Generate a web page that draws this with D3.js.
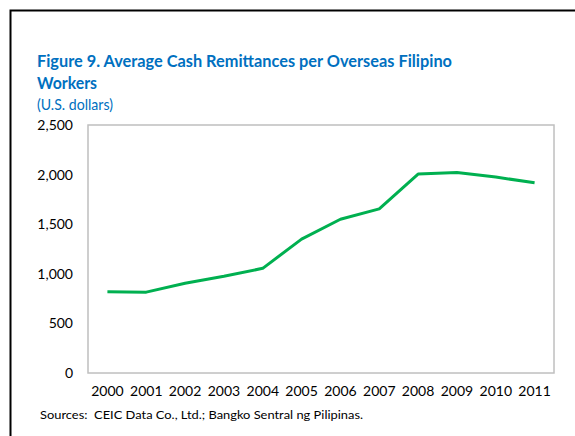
<!DOCTYPE html>
<html lang="en">
<head>
    <meta charset="UTF-8">
    <title>Average Cash Remittances per Overseas Filipino Workers</title>
    <script src="https://d3js.org/d3.v7.min.js"></script>
    <style>
        body { margin: 0; background: #fff; }
        text { font-family: Lato, "Open Sans", sans-serif; }
    </style>
</head>
<body>
    <div id="chart"></div>
    <script>
        // Data
        var years = ["2000", "2001", "2002", "2003", "2004", "2005", "2006", "2007", "2008", "2009", "2010", "2011"];
        var remittances = [820, 815, 905, 975, 1055, 1350, 1550, 1655, 2005, 2022, 1975, 1918];
        var yTicks = [0, 500, 1000, 1500, 2000, 2500];

        var svg = d3.select("#chart")
            .append("svg")
            .attr("width", 575)
            .attr("height", 436);

        // outer frame
        svg.append("rect")
            .attr("x", 10.5).attr("y", 10.5)
            .attr("width", 600).attr("height", 500)
            .attr("fill", "none")
            .attr("stroke", "#000")
            .attr("stroke-width", 2);

        var margin = { top: 125, left: 88, right: 21, bottom: 63 };
        var width = 575 - margin.left - margin.right;
        var height = 436 - margin.top - margin.bottom;

        var x = d3.scaleBand().domain(years).range([0, width]);
        var y = d3.scaleLinear().domain([0, 2500]).range([height, 0]);

        var g = svg.append("g")
            .attr("transform", "translate(" + margin.left + "," + margin.top + ")");

        // title
        svg.append("text")
            .attr("x", 37).attr("y", 67)
            .attr("fill", "#0070C0")
            .attr("font-weight", "bold")
            .attr("font-size", 17.5)
            .attr("textLength", 415)
            .attr("lengthAdjust", "spacingAndGlyphs")
            .text("Figure 9. Average Cash Remittances per Overseas Filipino");
        svg.append("text")
            .attr("x", 37).attr("y", 89)
            .attr("fill", "#0070C0")
            .attr("font-weight", "bold")
            .attr("font-size", 17.5)
            .attr("textLength", 60)
            .attr("lengthAdjust", "spacingAndGlyphs")
            .text("Workers");
        svg.append("text")
            .attr("x", 37).attr("y", 110)
            .attr("fill", "#0070C0")
            .attr("font-size", 15)
            .attr("textLength", 76)
            .attr("lengthAdjust", "spacingAndGlyphs")
            .text("(U.S. dollars)");

        // plot border
        g.append("rect")
            .attr("x", 0).attr("y", 0)
            .attr("width", width).attr("height", height)
            .attr("fill", "none")
            .attr("stroke", "#BFBFBF")
            .attr("stroke-width", 1.5);

        // y axis
        var yAxis = g.append("g")
            .call(d3.axisLeft(y).tickValues(yTicks).tickSize(0).tickPadding(15).tickFormat(d3.format(",")));
        yAxis.select(".domain").remove();
        yAxis.selectAll("text")
            .attr("font-size", 14)
            .attr("fill", "#000")
            .style("font-family", "Lato, 'Open Sans', sans-serif");

        // x axis
        var xAxis = g.append("g")
            .attr("transform", "translate(0," + height + ")")
            .call(d3.axisBottom(x).tickSize(0).tickPadding(13));
        xAxis.select(".domain").remove();
        xAxis.selectAll("text")
            .attr("font-size", 14)
            .attr("fill", "#000")
            .style("font-family", "Lato, 'Open Sans', sans-serif");

        // line
        var line = d3.line()
            .x(function(d, i) { return x(years[i]) + x.bandwidth() / 2; })
            .y(function(d) { return y(d); });

        g.append("path")
            .datum(remittances)
            .attr("fill", "none")
            .attr("stroke", "#00B050")
            .attr("stroke-width", 3)
            .attr("stroke-linejoin", "round")
            .attr("d", line);

        // source
        svg.append("text")
            .attr("x", 40).attr("y", 419)
            .attr("font-size", 12)
            .attr("fill", "#000")
            .style("white-space", "pre")
            .attr("textLength", 323)
            .attr("lengthAdjust", "spacingAndGlyphs")
            .text("Sources:  CEIC Data Co., Ltd.; Bangko Sentral ng Pilipinas.");
    </script>
</body>
</html>
